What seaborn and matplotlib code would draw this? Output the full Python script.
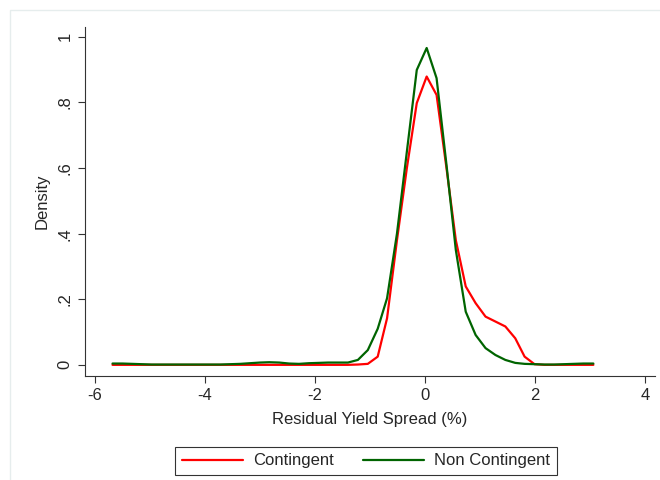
import pandas as pd
import numpy as np
import matplotlib
matplotlib.use("Agg")
import matplotlib.pyplot as plt
import seaborn as sns

# kdensity evaluation grid (50 points) and estimated densities
grid = [-5.68, -5.50, -5.32, -5.15, -4.97, -4.79, -4.61, -4.43, -4.25, -4.07,
        -3.90, -3.72, -3.54, -3.36, -3.18, -3.00, -2.83, -2.65, -2.47, -2.29,
        -2.11, -1.93, -1.76, -1.58, -1.40, -1.22, -1.04, -0.86, -0.69, -0.51,
        -0.33, -0.15, 0.03, 0.21, 0.39, 0.56, 0.74, 0.92, 1.10, 1.28,
        1.46, 1.64, 1.81, 1.99, 2.17, 2.35, 2.53, 2.70, 2.88, 3.06]

contingent = [0.000, 0.000, 0.000, 0.000, 0.000, 0.000, 0.000, 0.000, 0.000, 0.000,
              0.000, 0.000, 0.000, 0.000, 0.000, 0.000, 0.000, 0.000, 0.000, 0.000,
              0.000, 0.000, 0.000, 0.000, 0.000, 0.001, 0.003, 0.025, 0.142, 0.380,
              0.600, 0.798, 0.879, 0.823, 0.600, 0.380, 0.239, 0.188, 0.147, 0.132,
              0.117, 0.081, 0.025, 0.002, 0.000, 0.000, 0.000, 0.000, 0.000, 0.000]

non_contingent = [0.004, 0.004, 0.003, 0.002, 0.001, 0.001, 0.001, 0.001, 0.001, 0.001,
                  0.001, 0.001, 0.002, 0.003, 0.005, 0.007, 0.008, 0.007, 0.004, 0.003,
                  0.005, 0.006, 0.007, 0.007, 0.007, 0.015, 0.045, 0.110, 0.203, 0.400,
                  0.650, 0.899, 0.966, 0.874, 0.610, 0.350, 0.162, 0.091, 0.051, 0.030,
                  0.015, 0.006, 0.003, 0.002, 0.001, 0.001, 0.002, 0.003, 0.004, 0.004]

groups = ["Contingent", "Non Contingent"]
colors = ["#ff0000", "#006400"]

x_ticks = [-6, -4, -2, 0, 2, 4]
y_ticks = [0, 0.2, 0.4, 0.6, 0.8, 1.0]
y_tick_labels = ["0", ".2", ".4", ".6", ".8", "1"]

df = pd.DataFrame({
    "x": grid * 2,
    "density": contingent + non_contingent,
    "group": [groups[0]] * len(grid) + [groups[1]] * len(grid),
})

sns.set_style("white")
plt.rcParams["font.family"] = ["Liberation Sans", "DejaVu Sans"]
plt.rcParams["axes.unicode_minus"] = False

fig = plt.figure(figsize=(6.6, 4.8), dpi=100)
# faint outer graph region frame
fig.patches.append(plt.Rectangle((10 / 660, -0.1), 2, 1 - 10 / 480 + 0.1,
                                 transform=fig.transFigure, fill=False,
                                 edgecolor="#e6eded", lw=1.0))
ax = fig.add_axes([85 / 660, 104 / 480, 570 / 660, 349 / 480])

sns.lineplot(data=df, x="x", y="density", hue="group", palette=colors,
             hue_order=groups, linewidth=1.6, ax=ax, legend=False)

ax.set_xlim(-6.18, 4.18)
ax.set_ylim(-0.034, 1.03)
ax.set_xticks(x_ticks)
ax.set_yticks(y_ticks)
ax.set_yticklabels(y_tick_labels, rotation=90, va="center")
ax.tick_params(axis="both", labelsize=12, length=5, width=0.8, color="#333333",
               left=True, bottom=True, pad=4)
ax.set_xlabel("Residual Yield Spread (%)", fontsize=12, labelpad=6)
ax.set_ylabel("Density", fontsize=12, labelpad=6)

for side in ["top", "right"]:
    ax.spines[side].set_visible(False)
for side in ["left", "bottom"]:
    ax.spines[side].set_color("#333333")
    ax.spines[side].set_linewidth(0.8)

handles = [plt.Line2D([], [], color=c, lw=1.6) for c in colors]
leg = ax.legend(handles, groups, loc="center", ncol=2,
                bbox_to_anchor=(366 / 660, 19 / 480), bbox_transform=fig.transFigure,
                fontsize=12, handlelength=3.7, handletextpad=0.6, columnspacing=1.7,
                frameon=True, fancybox=False, borderpad=0.4)
leg.get_frame().set_edgecolor("black")
leg.get_frame().set_linewidth(0.8)

fig.savefig("out.png", dpi=100)
